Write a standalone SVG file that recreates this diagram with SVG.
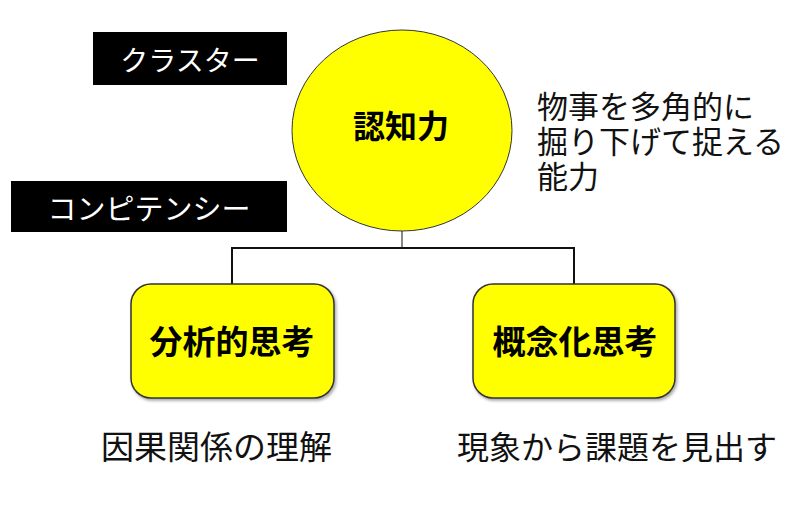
<svg xmlns="http://www.w3.org/2000/svg" width="800" height="507" viewBox="0 0 800 507">
<style>
text{font-family:"Noto Sans CJK JP","Noto Sans CJK SC",sans-serif;}
.lbl{fill:#ffffff;text-anchor:middle;}
.node{fill:#ffff00;stroke:#333333;stroke-width:1.5;}
.nt{fill:#000;font-weight:bold;text-anchor:middle;}
.desc{fill:#111;}
.conn{fill:none;stroke:#111;stroke-width:2;}
</style>
<defs>
<filter id="sh" x="-10%" y="-10%" width="130%" height="130%">
<feDropShadow dx="1.5" dy="2" stdDeviation="1.5" flood-color="#000" flood-opacity="0.35"/>
</filter>
</defs>
<rect width="800" height="507" fill="#ffffff"/>
<g id="label-cluster">
<rect x="93" y="32" width="194" height="53" fill="#000"/>
<text class="lbl" x="190" y="71" font-size="28">クラスター</text>
</g>
<g id="label-competency">
<rect x="11" y="181" width="276" height="51" fill="#000"/>
<text class="lbl" x="149" y="220" font-size="29">コンピテンシー</text>
</g>
<g id="connectors">
<line x1="402" y1="231" x2="402" y2="248" stroke="#111" stroke-width="1"/>
<path class="conn" d="M232,284 V248 H574 V284"/>
</g>
<g id="node-ninchi">
<ellipse class="node" cx="402" cy="130.5" rx="110" ry="100.5" style="stroke-width:1"/>
<text class="nt" x="401" y="138" font-size="32">認知力</text>
</g>
<g id="node-bunseki">
<rect class="node" x="131" y="284" width="203" height="114" rx="20" filter="url(#sh)"/>
<text class="nt" x="232" y="354" font-size="33">分析的思考</text>
</g>
<g id="node-gainen">
<rect class="node" x="473" y="284" width="202" height="114" rx="20" filter="url(#sh)"/>
<text class="nt" x="575" y="354" font-size="33">概念化思考</text>
</g>
<g id="desc-ninchi">
<text class="desc" font-size="31"><tspan x="537" y="117.5">物事を多角的に</tspan><tspan x="537" y="152.5">掘り下げて捉える</tspan><tspan x="537" y="187.5">能力</tspan></text>
</g>
<g id="desc-bunseki">
<text class="desc" x="101" y="459" font-size="33">因果関係の理解</text>
</g>
<g id="desc-gainen">
<text class="desc" x="457" y="459" font-size="32">現象から課題を見出す</text>
</g>
</svg>
